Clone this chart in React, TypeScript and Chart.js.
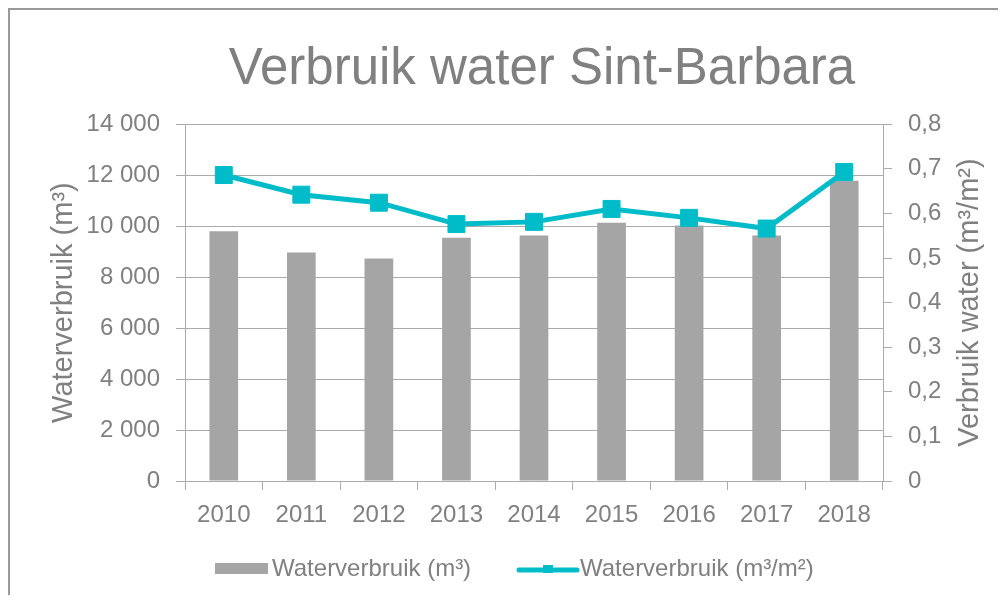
import React, { useEffect, useRef } from "react";
import { Chart, registerables } from "chart.js";

Chart.register(...registerables);

// ---- data ----
const years = ["2010", "2011", "2012", "2013", "2014", "2015", "2016", "2017", "2018"];
const volumeM3 = [9800, 8970, 8730, 9540, 9630, 10130, 10030, 9630, 11780];
const volumePerM2 = [0.686, 0.642, 0.624, 0.576, 0.581, 0.61, 0.59, 0.566, 0.693];

const chartTitle = "Verbruik water Sint-Barbara";
const barLabel = "Waterverbruik (m³)";
const lineLabel = "Waterverbruik (m³/m²)";
const leftAxisTitle = "Waterverbruik (m³)";
const rightAxisTitle = "Verbruik water (m³/m²)";

// ---- style ----
const FONT = '"Liberation Sans", Arial, sans-serif';
const TEXT = "#808080";
const GRID = "#ababab";
const BAR = "#a5a5a5";
const LINE = "#00bcc9";
const W = 988;
const H = 585;

const decorPlugin = {
  id: "decor",
  afterDraw(chart: any) {
    const { ctx, chartArea } = chart;
    const cy = (chartArea.top + chartArea.bottom) / 2;
    ctx.save();
    ctx.fillStyle = TEXT;
    ctx.font = `29px ${FONT}`;
    ctx.textAlign = "center";
    ctx.textBaseline = "middle";
    // left axis title
    ctx.save();
    ctx.translate(54, cy);
    ctx.rotate(-Math.PI / 2);
    ctx.fillText(leftAxisTitle, 0, 0);
    ctx.restore();
    // right axis title
    ctx.save();
    ctx.translate(960, cy);
    ctx.rotate(-Math.PI / 2);
    ctx.fillText(rightAxisTitle, 0, 0);
    ctx.restore();

    // legend
    const ly = 559;
    ctx.font = `24px ${FONT}`;
    ctx.textAlign = "left";
    ctx.fillStyle = BAR;
    ctx.fillRect(205, ly - 6, 53, 11);
    ctx.fillStyle = TEXT;
    ctx.fillText(barLabel, 262, ly);

    ctx.strokeStyle = LINE;
    ctx.lineWidth = 5;
    ctx.lineCap = "round";
    ctx.beginPath();
    ctx.moveTo(509, ly + 1);
    ctx.lineTo(567, ly + 1);
    ctx.stroke();
    ctx.fillStyle = LINE;
    ctx.fillRect(533, ly - 4, 10, 8);
    ctx.fillStyle = TEXT;
    ctx.fillText(lineLabel, 570, ly);
    ctx.restore();
  },
};

export default function App() {
  const ref = useRef<HTMLCanvasElement | null>(null);

  useEffect(() => {
    if (!ref.current) return;
    const chart = new Chart(ref.current, {
      type: "bar",
      data: {
        labels: years,
        datasets: [
          {
            type: "line",
            label: lineLabel,
            data: volumePerM2,
            yAxisID: "y1",
            borderColor: LINE,
            backgroundColor: LINE,
            borderWidth: 5,
            pointStyle: "rect",
            pointRadius: 12,
            pointBorderWidth: 1,
            pointBackgroundColor: LINE,
            pointBorderColor: LINE,
            tension: 0,
            order: 0,
          } as any,
          {
            type: "bar",
            label: barLabel,
            data: volumeM3,
            yAxisID: "y",
            backgroundColor: BAR,
            barPercentage: 0.37,
            categoryPercentage: 1,
            order: 1,
          } as any,
        ],
      },
      options: {
        responsive: false,
        animation: false,
        layout: { padding: { left: 76, right: 0, top: 0, bottom: 0 } },
        plugins: {
          legend: { display: false },
          tooltip: { enabled: false },
          title: {
            display: true,
            text: chartTitle,
            color: TEXT,
            font: { family: FONT, size: 51, weight: "normal" as any, lineHeight: 1.2 },
            padding: { top: 29, bottom: 24 },
          },
        },
        scales: {
          x: {
            grid: { drawOnChartArea: false, offset: true, color: GRID, tickLength: 9, tickColor: GRID },
            border: { display: true, color: GRID, width: 1 },
            ticks: { color: TEXT, font: { family: FONT, size: 24 }, padding: 11, maxRotation: 0 },
            afterFit(scale: any) {
              scale.height = 114;
            },
          },
          y: {
            position: "left",
            min: 0,
            max: 14000,
            ticks: {
              stepSize: 2000,
              color: TEXT,
              font: { family: FONT, size: 24 },
              padding: 16,
              callback: (v: any) => String(v).replace(/\B(?=(\d{3})+(?!\d))/g, " "),
            },
            grid: { color: GRID, tickLength: 9, tickColor: GRID },
            border: { display: true, color: GRID, width: 1 },
            afterFit(scale: any) {
              scale.width = 99;
            },
          },
          y1: {
            position: "right",
            min: 0,
            max: 0.8,
            ticks: {
              stepSize: 0.1,
              color: TEXT,
              font: { family: FONT, size: 24 },
              padding: 16,
              callback: (v: any) => (Number(v) === 0 ? "0" : Number(v).toFixed(1).replace(".", ",")),
            },
            grid: { drawOnChartArea: false, color: GRID, tickLength: 9, tickColor: GRID },
            border: { display: true, color: GRID, width: 1 },
            afterFit(scale: any) {
              scale.width = 115;
            },
          },
        },
      },
      plugins: [decorPlugin],
    });
    return () => chart.destroy();
  }, []);

  return (
    <div
      style={{
        borderLeft: "2px solid #9a9a9a",
        borderTop: "2px solid #9a9a9a",
        width: W,
        height: H,
        background: "#fff",
      }}
    >
      <canvas ref={ref} width={W} height={H} style={{ display: "block" }} />
    </div>
  );
}
